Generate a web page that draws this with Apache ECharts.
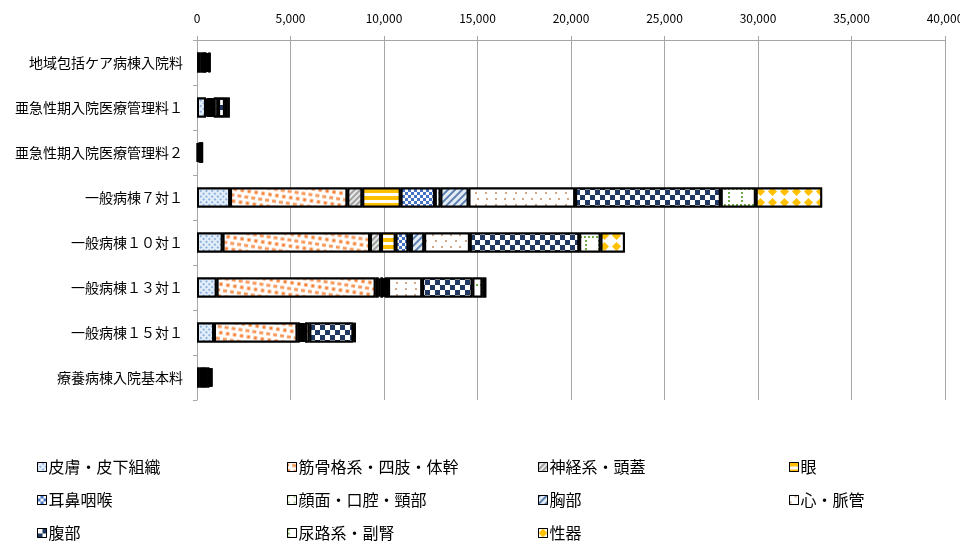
<!DOCTYPE html>
<html>
<head>
<meta charset="utf-8">
<script src="https://cdn.jsdelivr.net/npm/echarts@6/dist/echarts.min.js"></script>
<style>
  html, body { margin: 0; padding: 0; background: #fff; }
  #chart { width: 960px; height: 542px; }
</style>
</head>
<body>
<div id="chart"></div>
<script>
var categories = ['地域包括ケア病棟入院料', '亜急性期入院医療管理料１', '亜急性期入院医療管理料２',
  '一般病棟７対１', '一般病棟１０対１', '一般病棟１３対１', '一般病棟１５対１', '療養病棟入院基本料'];

var xTicks = [0, 5000, 10000, 15000, 20000, 25000, 30000, 35000, 40000];

var skin      = [180, 480, 60, 1770, 1370, 1050, 910, 120];
var muscle    = [170, 100, 50, 6270, 7880, 8500, 4460, 150];
var nerve     = [30, 60, 20, 800, 590, 160, 120, 40];
var eye       = [20, 60, 20, 2050, 780, 100, 60, 20];
var ent       = [30, 80, 20, 1830, 680, 140, 90, 30];
var face      = [20, 60, 20, 300, 140, 90, 50, 20];
var chest     = [30, 60, 20, 1500, 710, 180, 90, 40];
var heart     = [60, 230, 20, 5700, 2440, 1820, 230, 120];
var abdomen   = [80, 360, 30, 7790, 5850, 2690, 2350, 120];
var urinary   = [40, 130, 10, 1870, 1140, 530, 70, 80];
var genital   = [40, 130, 10, 3550, 1300, 210, 30, 80];

var names = ['皮膚・皮下組織', '筋骨格系・四肢・体幹', '神経系・頭蓋', '眼', '耳鼻咽喉',
  '顔面・口腔・頸部', '胸部', '心・脈管', '腹部', '尿路系・副腎', '性器'];
var values = [skin, muscle, nerve, eye, ent, face, chest, heart, abdomen, urinary, genital];

// fill colour + decal pattern for each series
var looks = [
  { color: '#9dc3e6', decal: { symbol: 'rect', color: '#8db3e2', backgroundColor: '#e4eef8', dashArrayX: [2, 2], dashArrayY: [2, 2], rotation: Math.PI / 4 } },
  { color: '#f4803a', decal: { symbol: 'rect', color: '#f47f32', backgroundColor: '#ffffff', dashArrayX: [[4, 3], [2, 3, 2, 0]], dashArrayY: [4, 2], rotation: 0.15 } },
  { color: '#bfbfbf', decal: { symbol: 'rect', color: '#a0a0a0', backgroundColor: '#e8e8e8', dashArrayX: [1, 0], dashArrayY: [2, 2], rotation: -Math.PI / 4 } },
  { color: '#ffc000', decal: { symbol: 'rect', color: '#ffc000', backgroundColor: '#ffffff', dashArrayX: [1, 0], dashArrayY: [4, 3], rotation: 0 } },
  { color: '#4472c4', decal: { symbol: 'rect', color: '#4472c4', backgroundColor: '#ffffff', dashArrayX: [[3, 3], [0, 3, 3, 0]], dashArrayY: [3, 0], rotation: 0 } },
  { color: '#ffffff', decal: { symbol: 'rect', color: '#70ad47', backgroundColor: '#ffffff', dashArrayX: [1.5, 4], dashArrayY: [1.5, 4], rotation: 0 } },
  { color: '#8eaadb', decal: { symbol: 'rect', color: '#5b7fb0', backgroundColor: '#e4ecf5', dashArrayX: [1, 0], dashArrayY: [2, 3], rotation: -Math.PI / 4 } },
  { color: '#f2dcc8', decal: { symbol: 'rect', color: '#b0703c', backgroundColor: '#ffffff', dashArrayX: [[2, 7], [0, 4.5, 2, 2.5]], dashArrayY: [2, 4], rotation: 0 } },
  { color: '#203864', decal: { symbol: 'rect', color: '#203864', backgroundColor: '#ffffff', dashArrayX: [[5, 5], [0, 5, 5, 0]], dashArrayY: [5, 0], rotation: 0 } },
  { color: '#ffffff', decal: { symbol: 'rect', color: '#70ad47', backgroundColor: '#ffffff', dashArrayX: [[1.5, 1.5], [1.5, 10.5], [1.5, 10.5], [1.5, 10.5]], dashArrayY: [1.5, 1.5], rotation: 0 } },
  { color: '#ffc000', decal: { symbol: 'diamond', color: '#ffc000', backgroundColor: '#ffffff', symbolSize: 1, dashArrayX: [9, 3], dashArrayY: [9, 2], rotation: 0 } }
];

var series = names.map(function (n, i) {
  return {
    name: n,
    type: 'bar',
    stack: 'total',
    barWidth: 20,
    data: values[i],
    itemStyle: { color: looks[i].color, decal: looks[i].decal, borderColor: '#000', borderWidth: 2 },
    emphasis: { disabled: true }
  };
});

// legend laid out as a 4-column grid, one legend per item
var colX = [37, 287, 538, 789];
var rowY = [467, 500, 533];
var legends = names.map(function (n, k) {
  return {
    data: [n],
    left: colX[k % 4],
    top: rowY[Math.floor(k / 4)] - 10,
    icon: 'rect',
    itemWidth: 9,
    itemHeight: 9,
    selectedMode: false,
    padding: 0,
    itemStyle: { borderWidth: 1, borderColor: '#000' },
    textStyle: { fontFamily: 'Noto Sans CJK JP', fontSize: 16, color: '#000', lineHeight: 20, padding: [0, 0, 0, -3] }
  };
});

var chart = echarts.init(document.getElementById('chart'), null, { renderer: 'canvas', width: 960, height: 542 });
chart.setOption({
  animation: false,
  aria: { enabled: true, decal: { show: true } },
  grid: { left: 197, right: 15, top: 40, bottom: 142, containLabel: false, outerBoundsMode: 'none' },
  xAxis: {
    type: 'value',
    position: 'top',
    min: xTicks[0],
    max: xTicks[xTicks.length - 1],
    interval: xTicks[1] - xTicks[0],
    axisLine: { show: true, lineStyle: { color: '#a6a6a6', width: 1 } },
    axisTick: { show: true, length: 4, lineStyle: { color: '#a6a6a6' } },
    splitLine: { lineStyle: { color: '#a6a6a6', width: 1 } },
    axisLabel: {
      fontFamily: 'Noto Sans CJK JP', fontSize: 12, color: '#000', margin: 16,
      formatter: function (v) { return v.toLocaleString('en-US'); }
    }
  },
  yAxis: {
    type: 'category',
    data: categories,
    inverse: true,
    axisLine: { lineStyle: { color: '#a6a6a6', width: 1 } },
    axisTick: { show: true, length: 4, lineStyle: { color: '#a6a6a6' } },
    axisLabel: { fontFamily: 'Noto Sans CJK JP', fontSize: 14, color: '#000', margin: 14 }
  },
  legend: legends,
  series: series
});
</script>
</body>
</html>
